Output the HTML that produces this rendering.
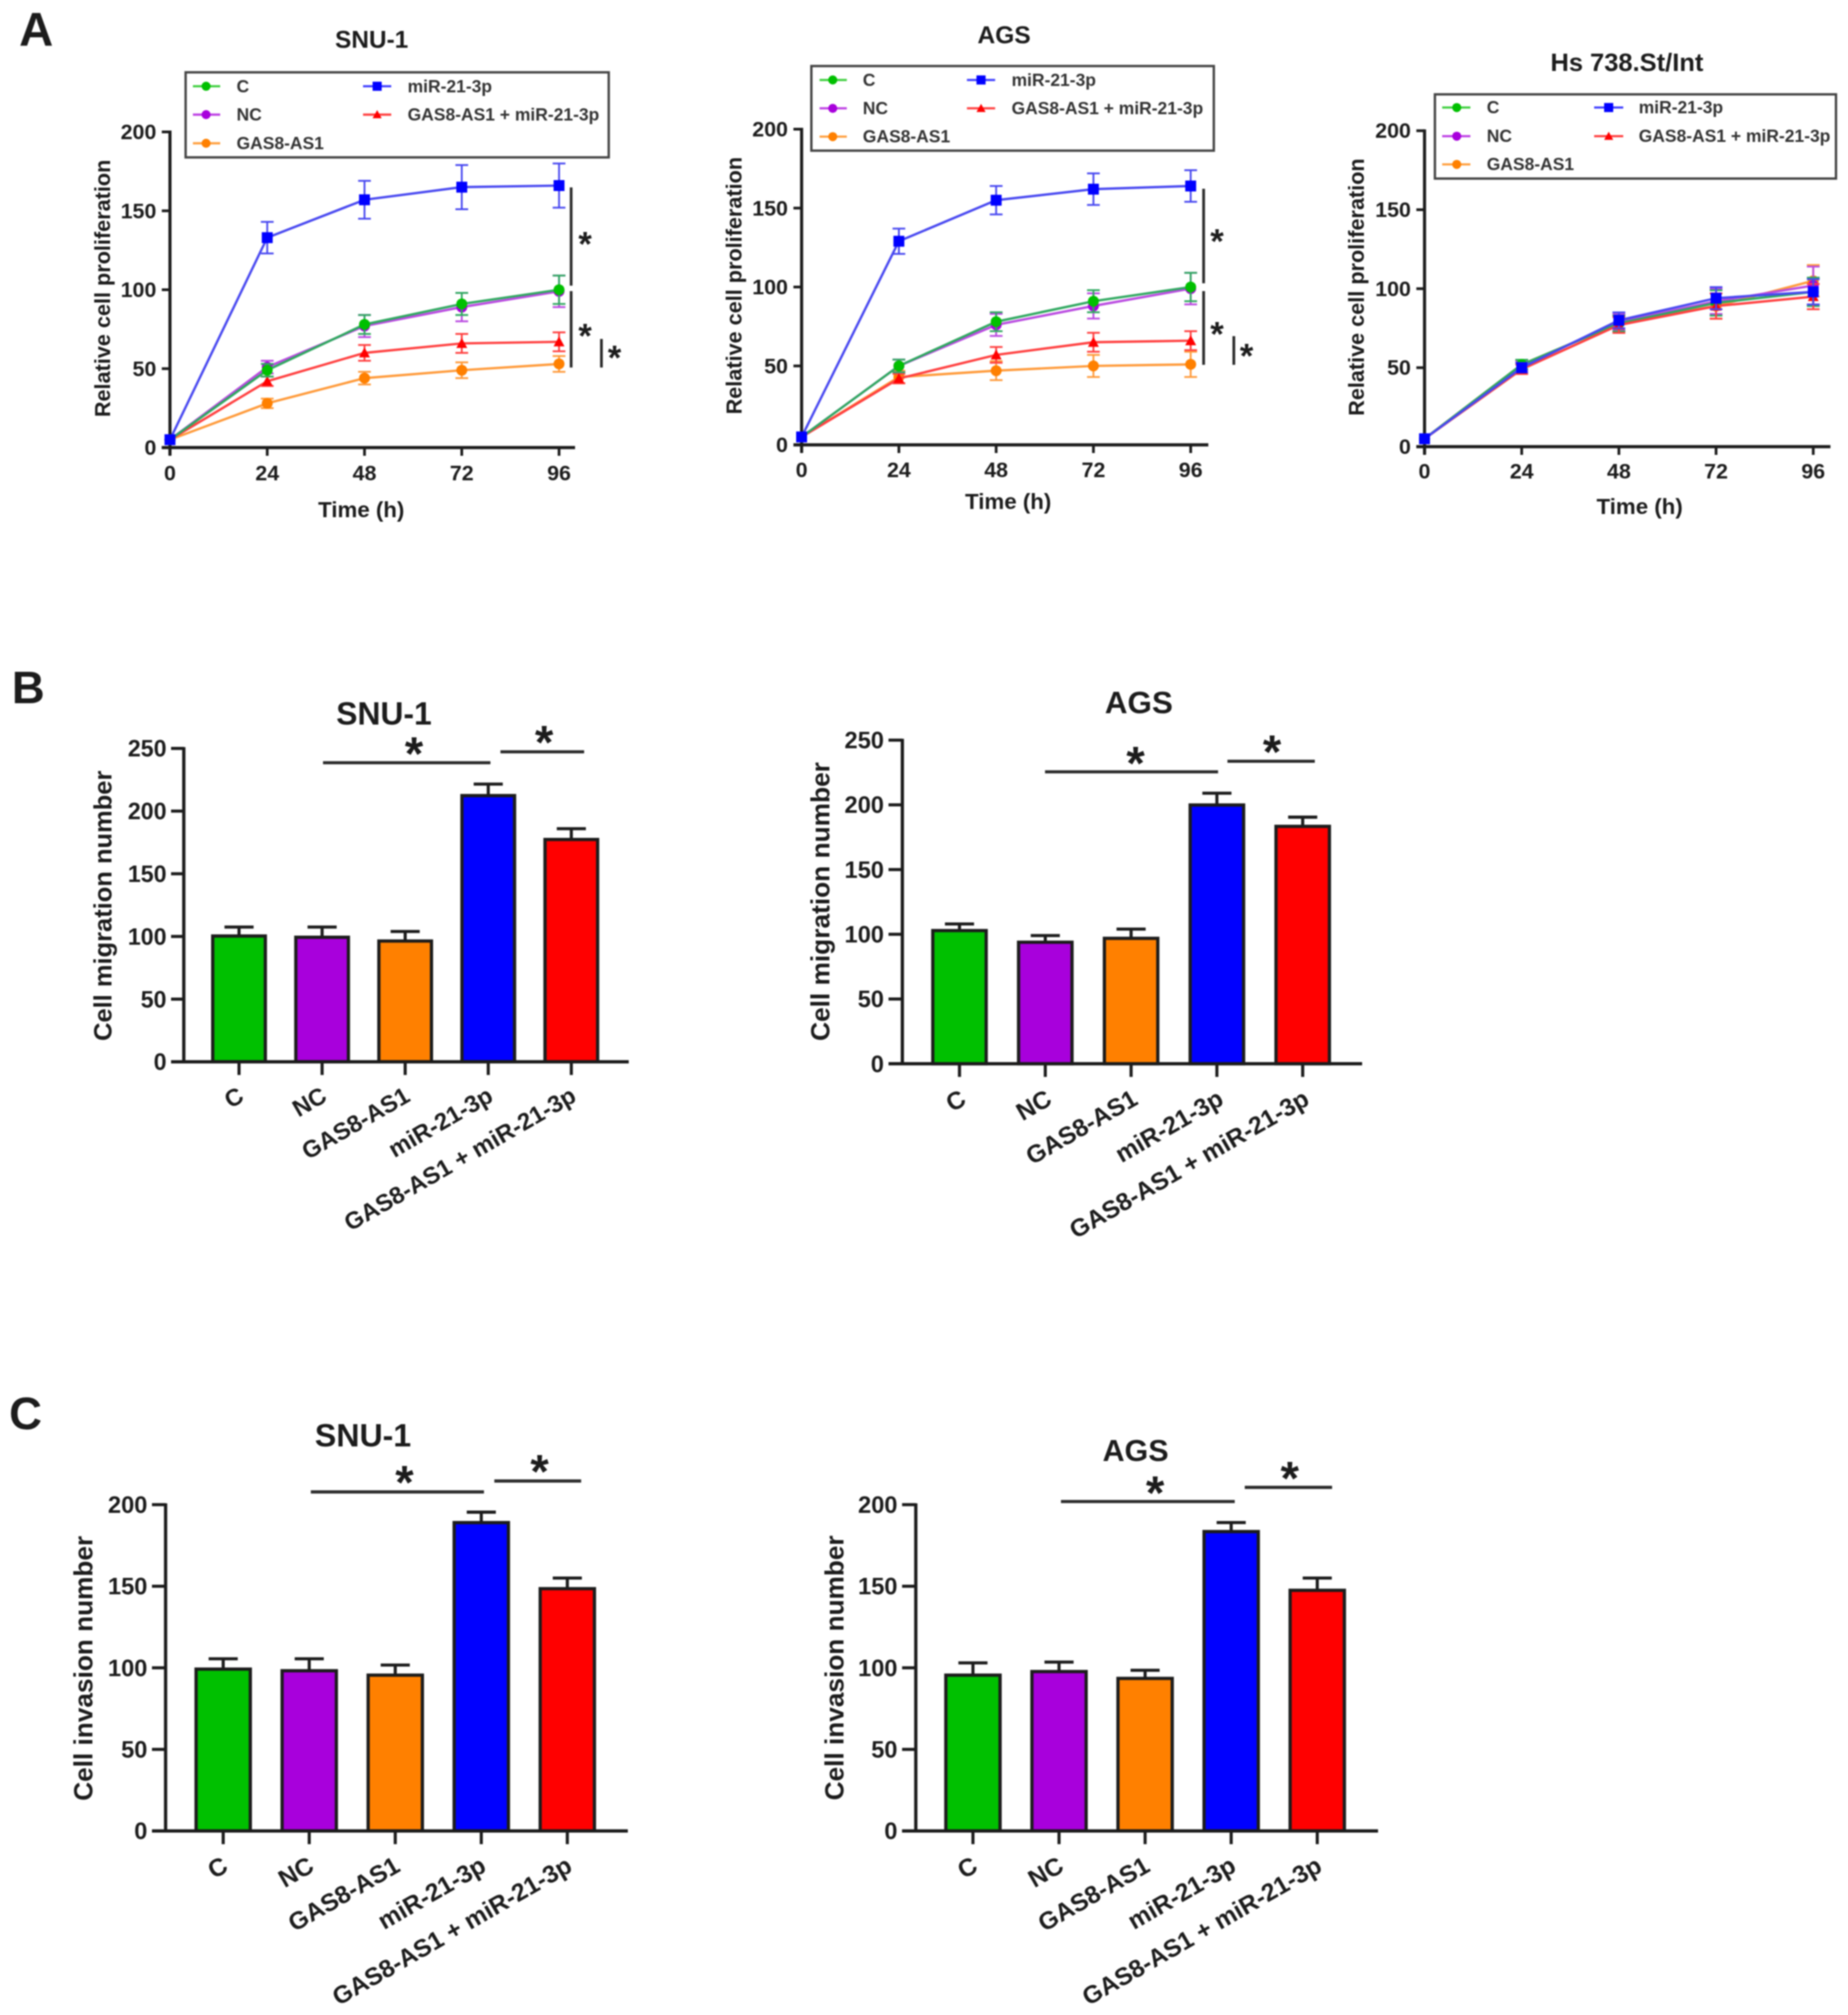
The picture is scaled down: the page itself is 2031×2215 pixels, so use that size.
<!DOCTYPE html>
<html lang="en">
<head>
<meta charset="utf-8">
<title>Cell proliferation, migration and invasion charts</title>
<style>
html,body{margin:0;padding:0;background:#fff;width:2031px;height:2215px;overflow:hidden}
svg{display:block;filter:blur(0.9px)}
text{font-family:"Liberation Sans",Arial,sans-serif;font-weight:bold;fill:#1c1c1c}
.lg text{font-size:19.2px;fill:#333}
.lg rect{fill:#fff;stroke:#444;stroke-width:2.6}
.lg line{stroke-width:2.4;opacity:.75}
</style>
</head>
<body>
<svg id="figure" xmlns="http://www.w3.org/2000/svg" width="2031" height="2215" viewBox="0 0 2031 2215">
<rect width="2031" height="2215" fill="#fff"/>

<text x="21" y="50" font-size="52">A</text>
<text x="13" y="773" font-size="50">B</text>
<text x="10" y="1571" font-size="50">C</text>

<g id="a1">
<text x="408.5" y="52.5" font-size="26.8" text-anchor="middle">SNU-1</text>
<text transform="translate(121 317) rotate(-90)" font-size="23.8" text-anchor="middle">Relative cell proliferation</text>
<text x="397" y="568.5" font-size="24.5" text-anchor="middle">Time (h)</text>
</g>
<g id="a2">
<text x="1103.5" y="47.5" font-size="27" text-anchor="middle">AGS</text>
<text transform="translate(815 314) rotate(-90)" font-size="23.8" text-anchor="middle">Relative cell proliferation</text>
<text x="1108" y="559.5" font-size="24.5" text-anchor="middle">Time (h)</text>
</g>
<g id="a3">
<text x="1788" y="78" font-size="28" text-anchor="middle">Hs 738.St/Int</text>
<text transform="translate(1499 315.6) rotate(-90)" font-size="23.8" text-anchor="middle">Relative cell proliferation</text>
<text x="1802" y="565" font-size="24.5" text-anchor="middle">Time (h)</text>
</g>

<g id="b1">
<text x="422" y="796.5" font-size="35" text-anchor="middle">SNU-1</text>
<text transform="translate(122.5 995.7) rotate(-90)" font-size="28" text-anchor="middle">Cell migration number</text>
</g>
<g id="b2">
<text x="1251.6" y="784" font-size="34.5" text-anchor="middle">AGS</text>
<text transform="translate(911.5 991) rotate(-90)" font-size="28.9" text-anchor="middle">Cell migration number</text>
</g>
<g id="c1">
<text x="399" y="1590" font-size="35.3" text-anchor="middle">SNU-1</text>
<text transform="translate(101.5 1833.9) rotate(-90)" font-size="28.8" text-anchor="middle">Cell invasion number</text>
</g>
<g id="c2">
<text x="1248" y="1606" font-size="33.5" text-anchor="middle">AGS</text>
<text transform="translate(927 1833.4) rotate(-90)" font-size="28.8" text-anchor="middle">Cell invasion number</text>
</g>

<g id="legend-a1" class="lg" transform="translate(204 79.5)">
<rect width="465" height="93.5"/>
<g><line x1="8" x2="38" y1="15.3" y2="15.3" stroke="#00c000"/><circle cx="22.5" cy="15.3" r="5" fill="#00c000"/><text x="56" y="21.8">C</text></g>
<g><line x1="8" x2="38" y1="46.5" y2="46.5" stroke="#a800dc"/><circle cx="22.5" cy="46.5" r="5" fill="#a800dc"/><text x="56" y="53">NC</text></g>
<g><line x1="8" x2="38" y1="78" y2="78" stroke="#ff8000"/><circle cx="22.5" cy="78" r="5" fill="#ff8000"/><text x="56" y="84.5">GAS8-AS1</text></g>
<g><line x1="195" x2="226" y1="15.3" y2="15.3" stroke="#0000ff"/><rect x="205.5" y="10.3" width="10" height="10" style="fill:#0000ff;stroke:none"/><text x="244" y="21.8">miR-21-3p</text></g>
<g><line x1="195" x2="226" y1="46.5" y2="46.5" stroke="#ff0000"/><path d="M210.5 41.5l5 9h-10z" fill="#ff0000"/><text x="244" y="53">GAS8-AS1 + miR-21-3p</text></g>
</g>

<g id="legend-a2" class="lg" transform="translate(891.7 72.6)">
<rect width="442.3" height="93"/>
<g><line x1="9" x2="39" y1="15.3" y2="15.3" stroke="#00c000"/><circle cx="23.5" cy="15.3" r="5" fill="#00c000"/><text x="56.6" y="21.8">C</text></g>
<g><line x1="9" x2="39" y1="46.5" y2="46.5" stroke="#a800dc"/><circle cx="23.5" cy="46.5" r="5" fill="#a800dc"/><text x="56.6" y="53">NC</text></g>
<g><line x1="9" x2="39" y1="77.6" y2="77.6" stroke="#ff8000"/><circle cx="23.5" cy="77.6" r="5" fill="#ff8000"/><text x="56.6" y="84">GAS8-AS1</text></g>
<g><line x1="171" x2="202" y1="15.3" y2="15.3" stroke="#0000ff"/><rect x="181.5" y="10.3" width="10" height="10" style="fill:#0000ff;stroke:none"/><text x="220" y="21.8">miR-21-3p</text></g>
<g><line x1="171" x2="202" y1="46.5" y2="46.5" stroke="#ff0000"/><path d="M186.5 41.5l5 9h-10z" fill="#ff0000"/><text x="220" y="53">GAS8-AS1 + miR-21-3p</text></g>
</g>

<g id="legend-a3" class="lg" transform="translate(1577 103.7)">
<rect width="440.8" height="92.6"/>
<g><line x1="8" x2="39" y1="14.5" y2="14.5" stroke="#00c000"/><circle cx="24" cy="14.5" r="5" fill="#00c000"/><text x="57" y="21">C</text></g>
<g><line x1="8" x2="39" y1="46" y2="46" stroke="#a800dc"/><circle cx="24" cy="46" r="5" fill="#a800dc"/><text x="57" y="52.5">NC</text></g>
<g><line x1="8" x2="39" y1="77" y2="77" stroke="#ff8000"/><circle cx="24" cy="77" r="5" fill="#ff8000"/><text x="57" y="83.5">GAS8-AS1</text></g>
<g><line x1="175" x2="207" y1="14.5" y2="14.5" stroke="#0000ff"/><rect x="186" y="9.5" width="10" height="10" style="fill:#0000ff;stroke:none"/><text x="224" y="21">miR-21-3p</text></g>
<g><line x1="175" x2="207" y1="46" y2="46" stroke="#ff0000"/><path d="M191 41l5 9h-10z" fill="#ff0000"/><text x="224" y="52.5">GAS8-AS1 + miR-21-3p</text></g>
</g>
</svg>

<script>
// ---------- shared categories and ticks ----------
const timeTicks = [0, 24, 48, 72, 96];
const proliferationTicks = [0, 50, 100, 150, 200];
const migrationTicks = [0, 50, 100, 150, 200, 250];
const invasionTicks = [0, 50, 100, 150, 200];
const barCategories = ['C', 'NC', 'GAS8-AS1', 'miR-21-3p', 'GAS8-AS1 + miR-21-3p'];

// ---------- panel A: SNU-1 proliferation ----------
const snuC = [5, 49, 78, 91, 100];
const snuCErr = [0, 4, 6, 7, 9];
const snuNC = [5, 51, 77, 89, 99];
const snuNCErr = [0, 4, 7, 9, 10];
const snuGas = [5, 28, 44, 49, 53];
const snuGasErr = [0, 3, 4, 5, 5];
const snuMir = [5, 133, 157, 165, 166];
const snuMirErr = [0, 10, 12, 14, 14];
const snuCombo = [5, 42, 60, 66, 67];
const snuComboErr = [0, 3, 5, 6, 6];

// ---------- panel A: AGS proliferation ----------
const agsC = [5, 50, 78, 91, 100];
const agsCErr = [0, 4, 6, 7, 9];
const agsNC = [5, 50, 76, 88, 99];
const agsNCErr = [0, 4, 7, 8, 10];
const agsGas = [5, 43, 47, 50, 51];
const agsGasErr = [0, 4, 6, 7, 8];
const agsMir = [5, 129, 155, 162, 164];
const agsMirErr = [0, 8, 9, 10, 10];
const agsCombo = [5, 42, 57, 65, 66];
const agsComboErr = [0, 3, 5, 6, 6];

// ---------- panel A: Hs 738.St/Int proliferation ----------
const hsC = [5, 52, 78, 91, 98];
const hsCErr = [0, 3, 5, 8, 9];
const hsNC = [5, 51, 79, 92, 102];
const hsNCErr = [0, 3, 5, 8, 12];
const hsGas = [5, 52, 78, 89, 105];
const hsGasErr = [0, 3, 5, 8, 10];
const hsMir = [5, 50, 80, 94, 98];
const hsMirErr = [0, 3, 5, 7, 8];
const hsCombo = [5, 49, 77, 89, 95];
const hsComboErr = [0, 3, 5, 8, 8];

// ---------- panels B and C: bars ----------
const migrationSnu = [101, 100, 97, 213, 178];
const migrationSnuErr = [6.5, 7.5, 7, 8.5, 8];
const migrationAgs = [103.5, 94.5, 97.5, 200.5, 184];
const migrationAgsErr = [4.5, 4.5, 6.5, 8.5, 6.5];
const invasionSnu = [99.7, 98.7, 96, 189.5, 149];
const invasionSnuErr = [5.8, 6.8, 5.7, 5.9, 6];
const invasionAgs = [96, 98.2, 94, 184, 148];
const invasionAgsErr = [7, 5.3, 4.5, 5, 7];

// ---------- styling and layout ----------
const INK = '#1c1c1c';
const NS = 'http://www.w3.org/2000/svg';
const seriesStyles = {
  gas: { label: 'gas8-as1', color: '#ff8000', line: '#ff9a3a', shape: 'circle' },
  combo: { label: 'combination', color: '#ff0000', line: '#ff4040', shape: 'triangle' },
  nc: { label: 'nc', color: '#a800dc', line: '#b94ae0', shape: 'circle' },
  c: { label: 'c', color: '#00c000', line: '#30a860', shape: 'circle' },
  mir: { label: 'mir-21-3p', color: '#0000ff', line: '#4848f0', shape: 'square' }
};

function mk(parent, tag, attrs, text) {
  const el = document.createElementNS(NS, tag);
  for (const k in attrs) el.setAttribute(k, attrs[k]);
  if (text !== undefined) el.textContent = text;
  parent.appendChild(el);
  return el;
}

function drawLine(parent, x1, y1, x2, y2, w, name, color) {
  const el = mk(parent, 'line', { x1, y1, x2, y2, stroke: color || INK, 'stroke-width': w });
  
  
  return el;
}

function drawText(parent, x, y, size, anchor, str, name, transform) {
  const el = mk(parent, 'text', { x, y, 'font-size': size, 'text-anchor': anchor }, str);
  if (transform) el.setAttribute('transform', transform);
  
  
  return el;
}

function drawStar(parent, cx, cy, size) {
  const el = mk(parent, 'text', { x: cx, y: cy + size * 0.48, 'font-size': size, 'text-anchor': 'middle' }, '*');
  
  
}

function lineChart(id, L, series) {
  const g = document.getElementById(id);
  const xOf = v => L.x0 + (v / 96) * (L.x96 - L.x0);
  const yOf = v => L.y0 - (v / 200) * (L.y0 - L.y200);

  drawLine(g, xOf(0), yOf(200) - 1.5, xOf(0), L.y0 + 8.5, 3.4, 'y-axis-line');
  drawLine(g, xOf(0) - 9, L.y0, L.xEnd, L.y0, 3.4, 'x-axis-line');
  proliferationTicks.forEach(t => {
    drawLine(g, xOf(0) - 9, yOf(t), xOf(0), yOf(t), 3, 'y-tick');
    drawText(g, xOf(0) - 15, yOf(t) + 8, 23.5, 'end', String(t), 'y-tick-label');
  });
  timeTicks.forEach(t => {
    drawLine(g, xOf(t), L.y0, xOf(t), L.y0 + 9, 3, 'x-tick');
    drawText(g, xOf(t), L.tickLabelY, 23.5, 'middle', String(t), 'x-tick-label');
  });

  series.forEach(s => {
    const st = seriesStyles[s.key];
    const sg = mk(g, 'g', {});
    
    
    s.values.forEach((v, i) => {
      if (!s.err[i]) return;
      const x = xOf(timeTicks[i]);
      drawLine(sg, x, yOf(v + s.err[i]), x, yOf(v - s.err[i]), 2, 'error-bar', st.line);
      drawLine(sg, x - 7, yOf(v + s.err[i]), x + 7, yOf(v + s.err[i]), 2, 'error-cap', st.line);
      drawLine(sg, x - 7, yOf(v - s.err[i]), x + 7, yOf(v - s.err[i]), 2, 'error-cap', st.line);
    });
    const pts = s.values.map((v, i) => xOf(timeTicks[i]) + ',' + yOf(v)).join(' ');
    const pl = mk(sg, 'polyline', { points: pts, fill: 'none', stroke: st.line, 'stroke-width': 2.6 });
    
    
    s.values.forEach((v, i) => {
      const x = xOf(timeTicks[i]);
      const y = yOf(v);
      let m;
      if (st.shape === 'circle') {
        m = mk(sg, 'circle', { cx: x, cy: y, r: 6, fill: st.color });
      } else if (st.shape === 'square') {
        m = mk(sg, 'rect', { x: x - 6, y: y - 6, width: 12, height: 12, fill: st.color });
      } else {
        m = mk(sg, 'path', { d: 'M' + x + ' ' + (y - 6) + 'l6 11h-12z', fill: st.color });
      }
      
      
    });
  });

  (L.brackets || []).forEach(b => drawLine(g, b[0], b[1], b[0], b[2], 3, 'significance-bracket', '#2a2a2a'));
  (L.stars || []).forEach(s => drawStar(g, s[0], s[1], 38));
}

function barChart(id, L, values, errs, ticks) {
  const g = document.getElementById(id);
  const yOf = v => L.y0 - (v / L.yMax) * (L.y0 - L.yTop);
  const xOf = i => L.c0 + i * L.step;
  const colors = ['#00c000', '#a800dc', '#ff8000', '#0000ff', '#ff0000'];
  const inset = 0.9;

  values.forEach((v, i) => {
    const x = xOf(i);
    drawLine(g, x, yOf(v), x, yOf(v + errs[i]), 3.4, 'error-bar');
    drawLine(g, x - 16, yOf(v + errs[i]), x + 16, yOf(v + errs[i]), 3.4, 'error-cap');
    const r = mk(g, 'rect', { x: x - L.barW / 2 + inset, y: yOf(v) + inset, width: L.barW - 2 * inset, height: L.y0 - yOf(v) - inset, fill: colors[i], stroke: INK, 'stroke-width': 3.6 });
    
    
  });

  drawLine(g, L.axisX, L.yTop - 1.5, L.axisX, L.y0, 3.6, 'y-axis-line');
  drawLine(g, L.tickLeft, L.y0, L.xEnd, L.y0, 3.6, 'x-axis-line');
  ticks.forEach(t => {
    drawLine(g, L.tickLeft, yOf(t), L.axisX, yOf(t), 3.4, 'y-tick');
    drawText(g, L.tickLeft - 5, yOf(t) + 9, L.tickFont, 'end', String(t), 'y-tick-label');
  });
  barCategories.forEach((c, i) => {
    const x = xOf(i);
    drawLine(g, x, L.y0, x, L.y0 + 14.5, 3.4, 'x-tick');
    const ex = x + L.labelDx;
    drawText(g, ex, L.labelY, L.catFont, 'end', c, 'x-tick-label', 'rotate(-30 ' + ex + ' ' + L.labelY + ')');
  });

  L.lines.forEach(b => drawLine(g, b[0], b[2], b[1], b[2], 3.4, 'significance-bracket', '#2a2a2a'));
  L.stars.forEach(s => drawStar(g, s[0], s[1], 52));
}

lineChart('a1', {
  x0: 186.8, x96: 614.4, xEnd: 632, y0: 492, y200: 145, tickLabelY: 528,
  brackets: [[627.7, 206, 314], [627.7, 320, 404], [661, 372.6, 404]],
  stars: [[643, 263], [643, 364], [675.4, 388]]
}, [
  { key: 'gas', values: snuGas, err: snuGasErr },
  { key: 'combo', values: snuCombo, err: snuComboErr },
  { key: 'nc', values: snuNC, err: snuNCErr },
  { key: 'c', values: snuC, err: snuCErr },
  { key: 'mir', values: snuMir, err: snuMirErr }
]);

lineChart('a2', {
  x0: 881, x96: 1308.6, xEnd: 1328, y0: 489, y200: 142, tickLabelY: 524.5,
  brackets: [[1322.8, 207.5, 311.4], [1322.8, 320, 401], [1356, 369.5, 401]],
  stars: [[1337.5, 260], [1337.5, 362], [1370, 386]]
}, [
  { key: 'gas', values: agsGas, err: agsGasErr },
  { key: 'combo', values: agsCombo, err: agsComboErr },
  { key: 'nc', values: agsNC, err: agsNCErr },
  { key: 'c', values: agsC, err: agsCErr },
  { key: 'mir', values: agsMir, err: agsMirErr }
]);

lineChart('a3', {
  x0: 1565.6, x96: 1992.8, xEnd: 2011.7, y0: 491, y200: 143.7, tickLabelY: 526
}, [
  { key: 'gas', values: hsGas, err: hsGasErr },
  { key: 'nc', values: hsNC, err: hsNCErr },
  { key: 'c', values: hsC, err: hsCErr },
  { key: 'combo', values: hsCombo, err: hsComboErr },
  { key: 'mir', values: hsMir, err: hsMirErr }
]);

barChart('b1', {
  axisX: 202, tickLeft: 188, xEnd: 691, y0: 1167.2, yTop: 822.7, yMax: 250,
  c0: 262.7, step: 91.3, barW: 59.6, tickFont: 25.5, catFont: 26.3, labelDx: 7, labelY: 1209.5,
  lines: [[355, 539, 838.4], [550, 642, 826.4]],
  stars: [[455, 821.5], [598, 809]]
}, migrationSnu, migrationSnuErr, migrationTicks);

barChart('b2', {
  axisX: 991.7, tickLeft: 976.5, xEnd: 1497, y0: 1169.3, yTop: 813.6, yMax: 250,
  c0: 1054.5, step: 94.3, barW: 60.5, tickFont: 26, catFont: 27.2, labelDx: 9, labelY: 1213,
  lines: [[1148.5, 1338.7, 848.4], [1349, 1445, 836.8]],
  stars: [[1248, 831.8], [1398, 819.4]]
}, migrationAgs, migrationAgsErr, migrationTicks);

barChart('c1', {
  axisX: 182, tickLeft: 167, xEnd: 690, y0: 2012.7, yTop: 1654, yMax: 200,
  c0: 245.3, step: 94.55, barW: 61.4, tickFont: 26, catFont: 27.2, labelDx: 7, labelY: 2056,
  lines: [[341.6, 531.9, 1640], [543.3, 638.7, 1628]],
  stars: [[444.5, 1622.7], [593, 1610.7]]
}, invasionSnu, invasionSnuErr, invasionTicks);

barChart('c2', {
  axisX: 1006.5, tickLeft: 991.4, xEnd: 1514.5, y0: 2012.7, yTop: 1654, yMax: 200,
  c0: 1069.3, step: 94.6, barW: 61.4, tickFont: 26, catFont: 27.2, labelDx: 7, labelY: 2056,
  lines: [[1166, 1357, 1650.6], [1368, 1464, 1635]],
  stars: [[1269.5, 1634], [1417.5, 1618]]
}, invasionAgs, invasionAgsErr, invasionTicks);
</script>
</body>
</html>
